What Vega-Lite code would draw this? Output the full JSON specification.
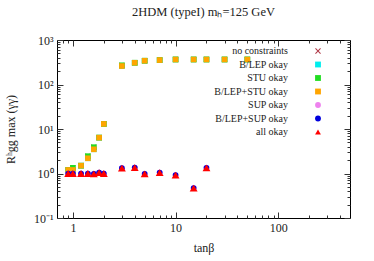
{
  "$schema": "https://vega.github.io/schema/vega-lite/v6.json",
  "width": 293,
  "height": 178,
  "autosize": "none",
  "padding": {"left": 57, "top": 40, "right": 24, "bottom": 43},
  "title": {"text": "2HDM (typeI) mₕ=125 GeV", "font": "Liberation Serif", "fontSize": 12.5, "fontWeight": "normal", "color": "#222", "offset": 16},
  "config": {
    "view": {"stroke": "#000", "strokeWidth": 1},
    "font": "Liberation Serif",
    "legend": {"labelFont": "Liberation Serif", "labelFontSize": 10, "labelColor": "#222"},
    "axis": {"grid": false, "domain": false, "labelFont": "Liberation Serif", "labelFontSize": 12, "labelColor": "#222", "titleFont": "Liberation Serif", "titleFontWeight": "normal", "titleFontSize": 12, "titleColor": "#222", "tickColor": "#333"}
  },
  "data": {"values": [
    {"x":0.9,"y":1.2,"s":"no constraints"},{"x":1.0,"y":1.34,"s":"no constraints"},{"x":1.2,"y":1.5,"s":"no constraints"},{"x":1.4,"y":2.45,"s":"no constraints"},{"x":1.6,"y":3.9,"s":"no constraints"},{"x":1.8,"y":6.4,"s":"no constraints"},{"x":2.0,"y":13,"s":"no constraints"},{"x":3,"y":270,"s":"no constraints"},{"x":4,"y":308,"s":"no constraints"},{"x":5,"y":342,"s":"no constraints"},{"x":7,"y":354,"s":"no constraints"},{"x":10,"y":365,"s":"no constraints"},{"x":15,"y":365,"s":"no constraints"},{"x":20,"y":365,"s":"no constraints"},{"x":30,"y":365,"s":"no constraints"},{"x":50,"y":365,"s":"no constraints"},
    {"x":0.9,"y":1.2,"s":"B/LEP okay"},{"x":1.0,"y":1.2,"s":"B/LEP okay"},{"x":1.2,"y":1.5,"s":"B/LEP okay"},{"x":1.4,"y":2.2,"s":"B/LEP okay"},{"x":1.6,"y":3.5,"s":"B/LEP okay"},{"x":1.8,"y":6.4,"s":"B/LEP okay"},{"x":2.0,"y":13,"s":"B/LEP okay"},{"x":3,"y":260,"s":"B/LEP okay"},{"x":4,"y":308,"s":"B/LEP okay"},{"x":5,"y":342,"s":"B/LEP okay"},{"x":7,"y":354,"s":"B/LEP okay"},{"x":10,"y":365,"s":"B/LEP okay"},{"x":15,"y":365,"s":"B/LEP okay"},{"x":20,"y":365,"s":"B/LEP okay"},{"x":30,"y":365,"s":"B/LEP okay"},{"x":50,"y":365,"s":"B/LEP okay"},
    {"x":0.9,"y":1.2,"s":"STU okay"},{"x":1.0,"y":1.34,"s":"STU okay"},{"x":1.2,"y":1.5,"s":"STU okay"},{"x":1.4,"y":2.45,"s":"STU okay"},{"x":1.6,"y":3.9,"s":"STU okay"},{"x":1.8,"y":6.4,"s":"STU okay"},{"x":2.0,"y":13,"s":"STU okay"},{"x":3,"y":270,"s":"STU okay"},{"x":4,"y":308,"s":"STU okay"},{"x":5,"y":342,"s":"STU okay"},{"x":7,"y":354,"s":"STU okay"},{"x":10,"y":365,"s":"STU okay"},{"x":15,"y":365,"s":"STU okay"},{"x":20,"y":365,"s":"STU okay"},{"x":30,"y":365,"s":"STU okay"},{"x":50,"y":365,"s":"STU okay"},
    {"x":0.9,"y":1.2,"s":"B/LEP+STU okay"},{"x":1.0,"y":1.2,"s":"B/LEP+STU okay"},{"x":1.2,"y":1.5,"s":"B/LEP+STU okay"},{"x":1.4,"y":2.2,"s":"B/LEP+STU okay"},{"x":1.6,"y":3.5,"s":"B/LEP+STU okay"},{"x":1.8,"y":6.4,"s":"B/LEP+STU okay"},{"x":2.0,"y":13,"s":"B/LEP+STU okay"},{"x":3,"y":260,"s":"B/LEP+STU okay"},{"x":4,"y":308,"s":"B/LEP+STU okay"},{"x":5,"y":342,"s":"B/LEP+STU okay"},{"x":7,"y":354,"s":"B/LEP+STU okay"},{"x":10,"y":365,"s":"B/LEP+STU okay"},{"x":15,"y":365,"s":"B/LEP+STU okay"},{"x":20,"y":365,"s":"B/LEP+STU okay"},{"x":30,"y":365,"s":"B/LEP+STU okay"},{"x":50,"y":365,"s":"B/LEP+STU okay"},
    {"x":0.9,"y":1.0,"s":"SUP okay"},{"x":1.0,"y":1.0,"s":"SUP okay"},{"x":1.2,"y":1.0,"s":"SUP okay"},{"x":1.4,"y":1.0,"s":"SUP okay"},{"x":1.6,"y":0.98,"s":"SUP okay"},{"x":1.8,"y":1.05,"s":"SUP okay"},{"x":2.0,"y":1.0,"s":"SUP okay"},{"x":3,"y":1.32,"s":"SUP okay"},{"x":4,"y":1.36,"s":"SUP okay"},{"x":5,"y":0.98,"s":"SUP okay"},{"x":7,"y":1.05,"s":"SUP okay"},{"x":10,"y":0.92,"s":"SUP okay"},{"x":15,"y":0.47,"s":"SUP okay"},{"x":20,"y":1.34,"s":"SUP okay"},
    {"x":0.9,"y":1.0,"s":"B/LEP+SUP okay"},{"x":1.0,"y":1.0,"s":"B/LEP+SUP okay"},{"x":1.2,"y":1.0,"s":"B/LEP+SUP okay"},{"x":1.4,"y":1.0,"s":"B/LEP+SUP okay"},{"x":1.6,"y":0.98,"s":"B/LEP+SUP okay"},{"x":1.8,"y":1.05,"s":"B/LEP+SUP okay"},{"x":2.0,"y":1.0,"s":"B/LEP+SUP okay"},{"x":3,"y":1.32,"s":"B/LEP+SUP okay"},{"x":4,"y":1.36,"s":"B/LEP+SUP okay"},{"x":5,"y":0.98,"s":"B/LEP+SUP okay"},{"x":7,"y":1.05,"s":"B/LEP+SUP okay"},{"x":10,"y":0.92,"s":"B/LEP+SUP okay"},{"x":15,"y":0.47,"s":"B/LEP+SUP okay"},{"x":20,"y":1.34,"s":"B/LEP+SUP okay"},
    {"x":0.9,"y":1.0,"s":"all okay"},{"x":1.0,"y":1.0,"s":"all okay"},{"x":1.2,"y":1.0,"s":"all okay"},{"x":1.4,"y":1.0,"s":"all okay"},{"x":1.6,"y":0.98,"s":"all okay"},{"x":1.8,"y":1.05,"s":"all okay"},{"x":2.0,"y":1.0,"s":"all okay"},{"x":3,"y":1.32,"s":"all okay"},{"x":4,"y":1.36,"s":"all okay"},{"x":5,"y":0.98,"s":"all okay"},{"x":7,"y":1.05,"s":"all okay"},{"x":10,"y":0.92,"s":"all okay"},{"x":15,"y":0.47,"s":"all okay"},{"x":20,"y":1.34,"s":"all okay"}
  ]},
  "layer": [
    {
      "transform": [{"filter": "datum.s != 'all okay'"}],
      "mark": {"type": "point", "filled": true, "opacity": 1, "size": 32},
      "encoding": {
        "x": {"field": "x", "type": "quantitative", "title": "tanβ",
          "scale": {"type": "log", "domain": [0.7, 500], "nice": false},
          "axis": {"orient": "bottom", "values": [0.8,0.9,1,2,3,4,5,6,7,8,9,10,20,30,40,50,60,70,80,90,100,200,300,400],
            "labelExpr": "(datum.value==1||datum.value==10||datum.value==100) ? datum.label : ''",
            "tickSize": {"condition": {"test": "datum.value==1||datum.value==10||datum.value==100", "value": -6}, "value": -3},
            "labelPadding": 10, "titleY": 24, "labelFlush": false}},
        "y": {"field": "y", "type": "quantitative", "title": "Rʰgg max (γγ)",
          "scale": {"type": "log", "domain": [0.1, 1000], "nice": false},
          "axis": {"orient": "left", "values": [0.1,0.2,0.3,0.4,0.5,0.6,0.7,0.8,0.9,1,2,3,4,5,6,7,8,9,10,20,30,40,50,60,70,80,90,100,200,300,400,500,600,700,800,900,1000],
            "labelExpr": "datum.value==0.1 ? '10⁻¹' : datum.value==1 ? '10⁰' : datum.value==10 ? '10¹' : datum.value==100 ? '10²' : datum.value==1000 ? '10³' : ''",
            "tickSize": {"condition": {"test": "datum.value==0.1||datum.value==1||datum.value==10||datum.value==100||datum.value==1000", "value": -6}, "value": -3},
            "labelPadding": 10, "labelFlush": false, "titleX": -40}},
        "color": {"field": "s", "type": "nominal", "title": null,
          "scale": {"domain": ["no constraints","B/LEP okay","STU okay","B/LEP+STU okay","SUP okay","B/LEP+SUP okay","all okay"],
                    "range": ["#b03a48","#00eeee","#22dd22","#ffa500","#ee82ee","#0000dd","#ff0000"]},
          "legend": {"orient": "none", "legendX": 256, "legendY": 6, "labelAlign": "right", "labelOffset": -35, "labelFont": "Liberation Serif", "labelFontSize": 10, "labelColor": "#222", "rowPadding": 3.5, "symbolSize": 34, "padding": 0, "labelLimit": 200}},
        "shape": {"field": "s", "type": "nominal", "title": null,
          "scale": {"domain": ["no constraints","B/LEP okay","STU okay","B/LEP+STU okay","SUP okay","B/LEP+SUP okay","all okay"],
                    "range": ["M-1,-0.75L-0.75,-1L0,-0.25L0.75,-1L1,-0.75L0.25,0L1,0.75L0.75,1L0,0.25L-0.75,1L-1,0.75L-0.25,0Z","square","square","square","circle","circle","triangle-up"]}}
      }
    },
    {
      "transform": [{"filter": "datum.s == 'all okay'"}],
      "mark": {"type": "point", "filled": true, "opacity": 1, "size": 62},
      "encoding": {
        "x": {"field": "x", "type": "quantitative", "axis": {"orient": "top", "title": null, "labels": false, "values": [0.8,0.9,1,2,3,4,5,6,7,8,9,10,20,30,40,50,60,70,80,90,100,200,300,400],
            "tickSize": {"condition": {"test": "datum.value==1||datum.value==10||datum.value==100", "value": -6}, "value": -3}}},
        "y": {"field": "y", "type": "quantitative", "axis": {"orient": "right", "title": null, "labels": false, "values": [0.1,0.2,0.3,0.4,0.5,0.6,0.7,0.8,0.9,1,2,3,4,5,6,7,8,9,10,20,30,40,50,60,70,80,90,100,200,300,400,500,600,700,800,900,1000],
            "tickSize": {"condition": {"test": "datum.value==0.1||datum.value==1||datum.value==10||datum.value==100||datum.value==1000", "value": -6}, "value": -3}}},
        "color": {"field": "s", "type": "nominal", "title": null},
        "shape": {"field": "s", "type": "nominal", "title": null}
      }
    }
  ],
  "resolve": {"axis": {"x": "independent", "y": "independent"}}
}
